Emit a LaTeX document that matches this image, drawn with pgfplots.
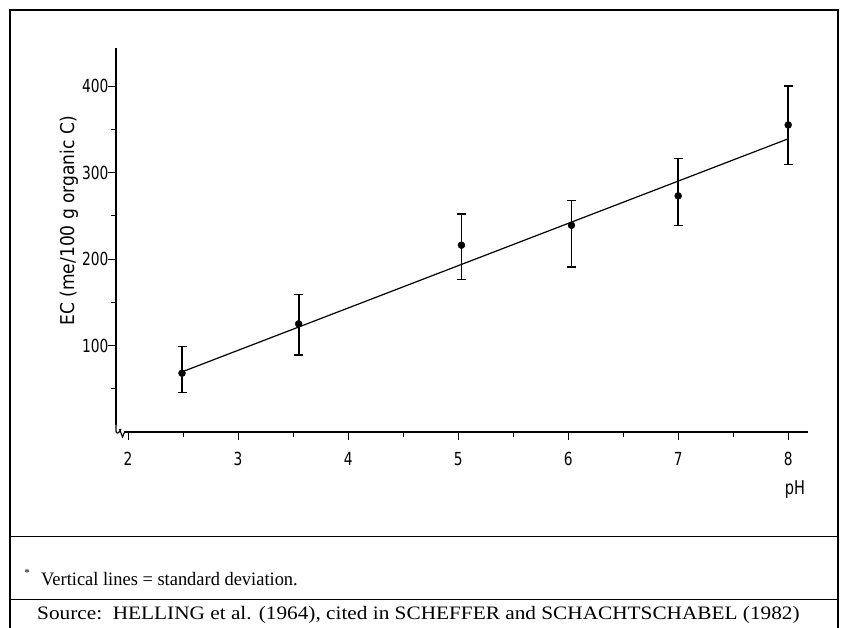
\documentclass[border=0pt]{standalone}
\usepackage{fontspec}
\setmainfont{Liberation Serif}
\newfontfamily\plotfont{DejaVu Sans Condensed}
\newfontfamily\tickfont[FakeStretch=0.85]{DejaVu Sans Condensed}
\usepackage{pgfplots}
\usepackage{graphicx}
\pgfplotsset{compat=1.18}
\begin{document}
\begin{tikzpicture}[x=1pt,y=1pt]
\useasboundingbox (0,0) rectangle (846,628);
% frame
\draw[line width=1.2pt] (10,0) -- (10,618) -- (838,618) -- (838,0);
\draw[line width=1pt] (10,91) -- (838,91);
\draw[line width=1pt] (10,28) -- (838,28);
\begin{axis}[
  at={(116pt,196pt)}, anchor=south west, scale only axis,
  width=692pt, height=384pt,
  xmin=1.89, xmax=8.18, ymin=0, ymax=444,
  axis lines=left, axis line style={line width=1.2pt, -},
  tick align=outside, major tick length=8pt, minor tick length=5pt,
  xtick={2,3,4,5,6,7,8}, minor xtick={2.5,3.5,4.5,5.5,6.5,7.5},
  ytick={100,200,300,400}, minor ytick={50,150,250,350},
  tick style={line width=1pt, black},
  ticklabel style={font=\tickfont\fontsize{18}{21}\selectfont},
  xticklabel style={yshift=-9pt},
  yticklabel style={xshift=4pt},
  /pgf/number format/assume math mode=true,
  ylabel={EC (me/100 g organic C)},
  ylabel style={font=\plotfont\fontsize{19}{22}\selectfont, at={(axis description cs:-0.068,0.55)}, anchor=center},
  clip=false,
]
\addplot[black, line width=1.2pt] coordinates {(2.5,70) (8,339)};
\addplot[only marks, mark=*, mark size=3.5pt, black,
  error bars/.cd, y dir=both, y explicit,
  error bar style={line width=1.8pt},
  error mark options={rotate=90, mark size=4.5pt, line width=1.4pt}]
  coordinates {
  (2.49,68) += (0,31) -= (0,22)
  (3.55,125) += (0,34) -= (0,36)
  (5.03,216) += (0,36) -= (0,40)
  (6.03,239) += (0,29) -= (0,48)
  (7.0,273) += (0,43) -= (0,34)
  (8.0,355) += (0,45) -= (0,46)
  };
\end{axis}
% axis break
\fill[white] (113,189) rectangle (126.5,203);
\draw[line width=1.2pt] (116,203) -- (116,197) .. controls (116,194) and (119,194) .. (121,199);
\draw[line width=1.1pt] (119.5,199) -- (122.5,191) -- (125,197);
\draw[line width=1.2pt] (124.5,196) -- (127,196);
% pH label
\node[font=\tickfont\fontsize{19}{22}\selectfont] at (795,138) {pH};
% notes
\node[font=\fontsize{11}{11}\selectfont] at (27,55) {*};
\node[anchor=base west, font=\fontsize{19}{22}\selectfont, inner sep=0pt] at (41,42) {\scalebox{0.97}[1]{Vertical lines = standard deviation.}};
\node[anchor=base west, font=\fontsize{19}{22}\selectfont, inner sep=0pt] at (37,8) {\scalebox{1.12}[1]{Source:\ \ HELLING et al. (1964), cited in SCHEFFER and SCHACHTSCHABEL (1982)}};
\end{tikzpicture}
\end{document}
